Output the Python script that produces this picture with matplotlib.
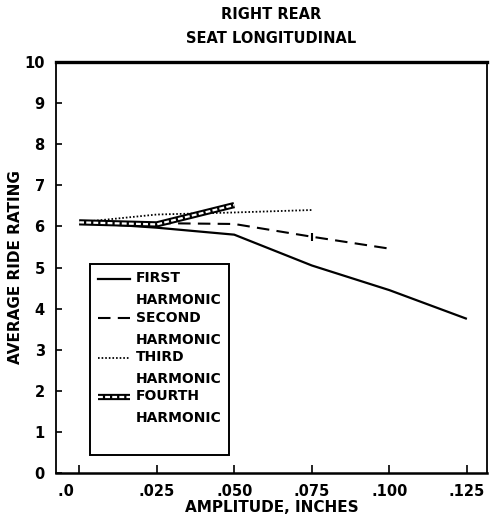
import matplotlib
matplotlib.use("Agg")
import matplotlib.pyplot as plt
from matplotlib.lines import Line2D
from matplotlib.legend_handler import HandlerLine2D, HandlerTuple

# Ride rating versus excitation amplitude, one curve per harmonic
amp_first = [0.0, 0.025, 0.050, 0.075, 0.100, 0.125]
rating_first = [6.1, 5.97, 5.8, 5.05, 4.45, 3.75]

amp_second = [0.0, 0.025, 0.050, 0.075, 0.100]
rating_second = [6.1, 6.08, 6.06, 5.75, 5.46]

amp_third = [0.0, 0.025, 0.050, 0.075]
rating_third = [6.1, 6.29, 6.34, 6.4]

amp_fourth = [0.0, 0.025, 0.050]
rating_fourth = [6.1, 6.05, 6.52]

x_ticks = [0.0, 0.025, 0.050, 0.075, 0.100, 0.125]
x_tick_labels = [".0 ", ".025", ".050", ".075", ".100", ".125"]
y_ticks = list(range(0, 11))

series_labels = ["FIRST\nHARMONIC", "SECOND\nHARMONIC", "THIRD\nHARMONIC", "FOURTH\nHARMONIC"]

FONT = "DejaVu Sans"
plt.rcParams["font.family"] = FONT
plt.rcParams["font.weight"] = "bold"

fig = plt.figure(figsize=(4.9, 5.22), dpi=100)
ax = fig.add_axes([0.114, 0.094, 0.880, 0.787])

ln1, = ax.plot(amp_first, rating_first, color="black", lw=1.6, solid_capstyle="butt")
ln2, = ax.plot(amp_second, rating_second, color="black", lw=1.5,
               dashes=(6, 3.5), marker="|", markevery=[3], markersize=6, mew=1.5)
ln3, = ax.plot(amp_third, rating_third, color="black", lw=1.3, dashes=(0.9, 1.1))
ln4a, = ax.plot(amp_fourth, rating_fourth, color="black", lw=4.5, solid_capstyle="butt")
ln4b, = ax.plot(amp_fourth, rating_fourth, color="white", lw=1.6, dashes=(2.2, 1.0))

ax.set_xlim(-0.0075, 0.1315)
ax.set_ylim(0, 10)
ax.set_xticks(x_ticks)
ax.set_xticklabels(x_tick_labels)
ax.set_yticks(y_ticks)
ax.get_xticklabels()[0].set_horizontalalignment("right")

ax.tick_params(axis="x", direction="in", length=6, width=1.2, pad=8, labelsize=10.5)
ax.tick_params(axis="y", direction="in", length=4, width=1.2, pad=8, labelsize=10.5)
for lab in ax.get_xticklabels() + ax.get_yticklabels():
    lab.set_fontweight("bold")

ax.spines["top"].set_linewidth(2.4)
ax.spines["bottom"].set_linewidth(1.8)
ax.spines["left"].set_linewidth(1.3)
ax.spines["right"].set_linewidth(1.3)

ax.set_xlabel("AMPLITUDE, INCHES", fontsize=11, fontweight="bold", labelpad=1)
ax.set_ylabel("AVERAGE RIDE RATING", fontsize=11, fontweight="bold", labelpad=1)
ax.set_title("RIGHT REAR\nSEAT LONGITUDINAL", fontsize=10.5, fontweight="bold",
             linespacing=1.75, pad=14)


class TopAlignedLine(HandlerLine2D):
    """Legend line placed level with the first line of a multi-line label."""
    def __init__(self, shift, **kw):
        super().__init__(**kw)
        self.shift = shift

    def create_artists(self, legend, orig_handle, xdescent, ydescent, width,
                       height, fontsize, trans):
        arts = super().create_artists(legend, orig_handle, xdescent, ydescent,
                                      width, height, fontsize, trans)
        for a in arts:
            a.set_ydata([y + self.shift for y in a.get_ydata()])
        return arts


class TopAlignedTuple(HandlerTuple):
    def __init__(self, shift, **kw):
        super().__init__(**kw)
        self.shift = shift

    def create_artists(self, legend, orig_handle, xdescent, ydescent, width,
                       height, fontsize, trans):
        arts = super().create_artists(legend, orig_handle, xdescent, ydescent,
                                      width, height, fontsize, trans)
        for a in arts:
            a.set_ydata([y + self.shift for y in a.get_ydata()])
        return arts


LINE_SPACING = 1.72
LINE_PITCH = 15.8  # points between successive lines of a label
h1 = Line2D([], [], color="black", lw=1.6)
h2 = Line2D([], [], color="black", lw=1.5, dashes=(6, 3.5))
h3 = Line2D([], [], color="black", lw=1.3, dashes=(0.9, 1.1))
half = LINE_PITCH / 2
leg = ax.legend([h1, h2, h3, (ln4a, ln4b)],
                series_labels[:3] + [series_labels[3] + "\n"],
                handler_map={h1: TopAlignedLine(half, marker_pad=0),
                             h2: TopAlignedLine(half, marker_pad=0),
                             h3: TopAlignedLine(half, marker_pad=0),
                             tuple: TopAlignedTuple(LINE_PITCH, ndivide=1, pad=0)},
                loc="lower left", bbox_to_anchor=(0.079, 0.044), borderaxespad=0,
                fancybox=False, framealpha=1, edgecolor="black",
                prop={"family": FONT, "weight": "bold", "size": 10},
                handlelength=2.35, handletextpad=0.4, borderpad=0.55,
                labelspacing=0.25)
leg.get_frame().set_linewidth(1.4)
for t in leg.get_texts():
    t.set_linespacing(LINE_SPACING)

fig.savefig("out.png", dpi=100)
